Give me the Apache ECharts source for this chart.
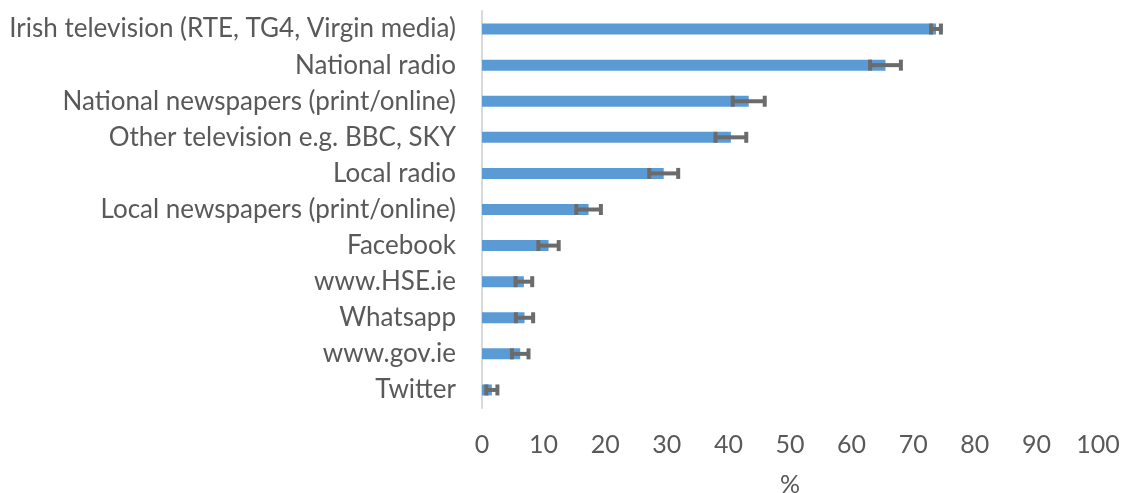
<!DOCTYPE html>
<html>
<head>
<meta charset="utf-8">
<script src="https://cdn.jsdelivr.net/npm/echarts@6/dist/echarts.min.js"></script>
<style>html,body{margin:0;padding:0;background:#fff;}#c{width:1123px;height:493px;}</style>
</head>
<body>
<div id="c"></div>
<script>
const categories = ["Irish television (RTE, TG4, Virgin media)", "National radio", "National newspapers (print/online)", "Other television e.g. BBC, SKY", "Local radio", "Local newspapers (print/online)", "Facebook", "www.HSE.ie", "Whatsapp", "www.gov.ie", "Twitter"];
const values = [73.7, 65.5, 43.3, 40.4, 29.5, 17.3, 10.8, 6.8, 6.9, 6.2, 1.6];
const errors = [0.8, 2.5, 2.6, 2.5, 2.35, 2.0, 1.65, 1.35, 1.4, 1.35, 0.9];
const xTicks = [0, 10, 20, 30, 40, 50, 60, 70, 80, 90, 100];

const errData = values.map((v, i) => [i, v - errors[i], v + errors[i]]);
const FONT = 'Lato';
const chart = echarts.init(document.getElementById('c'), null, {renderer: 'canvas'});
chart.setOption({
  animation: false,
  grid: {left: 482, right: 25, top: 11, bottom: 85, containLabel: false, outerBoundsMode: 'none'},
  xAxis: {
    type: 'value', min: xTicks[0], max: xTicks[xTicks.length - 1], interval: 10,
    name: '%', nameLocation: 'middle', nameGap: 64,
    nameTextStyle: {color: '#595959', fontSize: 25, fontFamily: FONT},
    axisLine: {show: false}, axisTick: {show: false}, splitLine: {show: false},
    axisLabel: {color: '#595959', fontSize: 25, fontFamily: FONT, margin: 24}
  },
  yAxis: {
    type: 'category', data: categories, inverse: true,
    axisLine: {show: true, lineStyle: {color: '#d9d9d9', width: 2}},
    axisTick: {show: false},
    axisLabel: {color: '#595959', fontSize: 26, fontFamily: FONT, margin: 26}
  },
  series: [
    {
      type: 'bar', data: values, barWidth: 11,
      itemStyle: {color: '#5b9bd5'}
    },
    {
      type: 'custom', data: errData,
      encode: {x: [1, 2], y: 0},
      renderItem: function (params, api) {
        const y = api.value(0);
        const lo = api.coord([api.value(1), y]);
        const hi = api.coord([api.value(2), y]);
        const h = 5.5;
        const st = {stroke: '#6b6b6b', lineWidth: 4};
        return {
          type: 'group',
          children: [
            {type: 'line', shape: {x1: lo[0], y1: lo[1], x2: hi[0], y2: hi[1]}, style: st},
            {type: 'line', shape: {x1: lo[0], y1: lo[1] - h, x2: lo[0], y2: lo[1] + h}, style: st},
            {type: 'line', shape: {x1: hi[0], y1: hi[1] - h, x2: hi[0], y2: hi[1] + h}, style: st}
          ]
        };
      },
      z: 5
    }
  ]
});
</script>
</body>
</html>
